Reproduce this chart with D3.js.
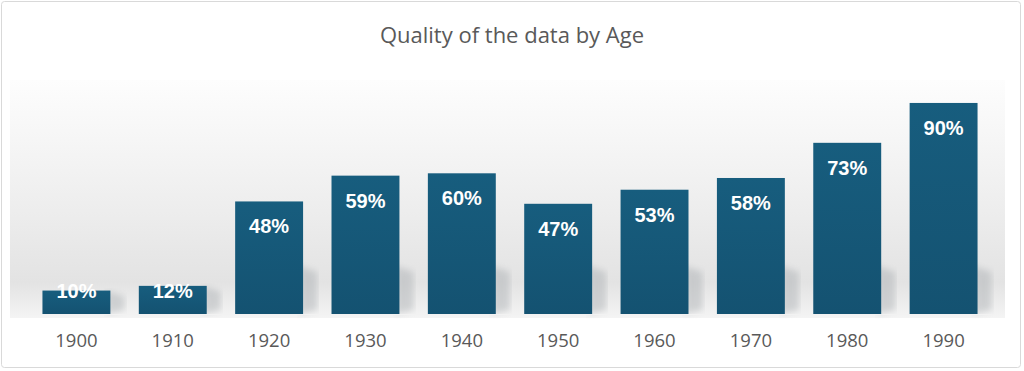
<!DOCTYPE html>
<html lang="en">
<head>
  <meta charset="UTF-8">
  <title>Quality of the data by Age</title>
  <style>
    body { margin: 0; background: #fff; }
    svg { display: block; }
    .title { font-family: "Open Sans", "Liberation Sans", sans-serif; font-size: 22px; fill: #595959; text-anchor: middle; }
    .tick-label { font-family: "Open Sans", "Liberation Sans", sans-serif; font-size: 18.5px; fill: #595959; text-anchor: middle; }
    .bar-label { font-family: "Liberation Sans", Arial, sans-serif; font-size: 20px; font-weight: bold; fill: #fff; text-anchor: middle; }
  </style>
</head>
<body>
  <svg width="1024" height="371"></svg>

  <script src="https://d3js.org/d3.v7.min.js"></script>
  <script>
    // chart data
    var years = ["1900", "1910", "1920", "1930", "1940", "1950", "1960", "1970", "1980", "1990"];
    var quality = [10, 12, 48, 59, 60, 47, 53, 58, 73, 90];

    var svg = d3.select("svg");

    var defs = svg.append("defs");

    var bg = defs.append("linearGradient").attr("id", "bg")
        .attr("x1", 0).attr("y1", 0).attr("x2", 0).attr("y2", 1);
    bg.append("stop").attr("offset", "0%").attr("stop-color", "#fdfdfd");
    bg.append("stop").attr("offset", "25%").attr("stop-color", "#f6f6f6");
    bg.append("stop").attr("offset", "55%").attr("stop-color", "#ededed");
    bg.append("stop").attr("offset", "85%").attr("stop-color", "#e3e3e3");
    bg.append("stop").attr("offset", "100%").attr("stop-color", "#f4f4f4");

    var barGrad = defs.append("linearGradient").attr("id", "barGrad")
        .attr("x1", 0).attr("y1", 0).attr("x2", 0).attr("y2", 1);
    barGrad.append("stop").attr("offset", "0%").attr("stop-color", "#175d7e");
    barGrad.append("stop").attr("offset", "100%").attr("stop-color", "#145271");

    defs.append("filter").attr("id", "blur")
        .append("feGaussianBlur").attr("stdDeviation", 3);

    // outer frame
    svg.append("rect")
        .attr("x", 1.5).attr("y", 1.5)
        .attr("width", 1019).attr("height", 366)
        .attr("rx", 3)
        .attr("fill", "#fff")
        .attr("stroke", "#d9d9d9");

    // plot background bands
    svg.append("rect")
        .attr("x", 10).attr("y", 80)
        .attr("width", 995).attr("height", 238)
        .attr("fill", "url(#bg)");

    svg.append("text")
        .attr("class", "title")
        .attr("x", 512).attr("y", 43)
        .text("Quality of the data by Age");

    var x = d3.scaleBand()
        .domain(years)
        .range([28, 992])
        .paddingInner(0.295)
        .paddingOuter(0.15);

    var y = d3.scaleLinear()
        .domain([0, 100])
        .range([314, 79.5]);

    var data = years.map(function(d, i) { return { year: d, value: quality[i] }; });

    // soft shadows behind bars
    svg.append("g")
        .selectAll("polygon")
        .data(data)
        .enter().append("polygon")
        .attr("fill", "#a9adb1")
        .attr("opacity", 0.45)
        .attr("filter", "url(#blur)")
        .attr("points", function(d) {
          var x1 = x(d.year) + x.bandwidth();
          var b = y(0);
          var s = Math.min(b - y(d.value), 48);
          return [[x1 - 4, b - s], [x1 + 14, b - s + 6], [x1 + 14, b - 4], [x1 - 4, b]]
            .map(function(p) { return p.join(","); }).join(" ");
        });

    svg.append("g")
        .selectAll("rect")
        .data(data)
        .enter().append("rect")
        .attr("x", function(d) { return x(d.year); })
        .attr("y", function(d) { return y(d.value); })
        .attr("width", x.bandwidth())
        .attr("height", function(d) { return y(0) - y(d.value); })
        .attr("fill", "url(#barGrad)");

    svg.append("g")
        .selectAll("text")
        .data(data)
        .enter().append("text")
        .attr("class", "bar-label")
        .attr("x", function(d) { return x(d.year) + x.bandwidth() / 2; })
        .attr("y", function(d) { return Math.min(y(d.value) + 25, y(0) - 23); })
        .attr("dy", "0.35em")
        .text(function(d) { return d.value + "%"; });

    // category axis
    var axis = svg.append("g")
        .attr("transform", "translate(0," + y(0) + ")")
        .call(d3.axisBottom(x).tickSize(0).tickPadding(0));
    axis.select(".domain").attr("stroke", "#f2f2f2");
    axis.selectAll(".tick text")
        .attr("class", "tick-label")
        .attr("font-size", null)
        .attr("font-family", null)
        .attr("fill", null)
        .attr("dy", null)
        .attr("y", 33);
  </script>
</body>
</html>
